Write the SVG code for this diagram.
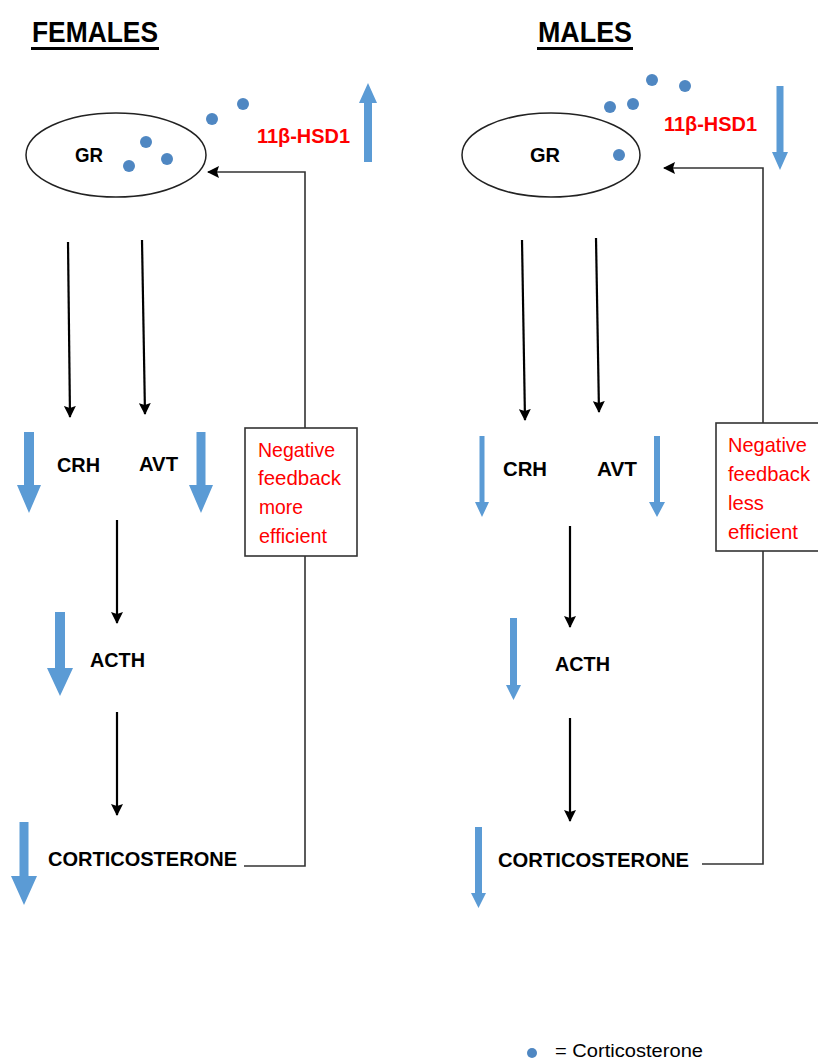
<svg xmlns="http://www.w3.org/2000/svg" width="818" height="1062" viewBox="0 0 818 1062">
<style>
.title{font-family:"Liberation Sans",Arial,sans-serif;font-weight:bold;font-size:29px;fill:#000}
.lbl{font-family:"Liberation Sans",Arial,sans-serif;font-weight:bold;font-size:20px;fill:#000}
.hsd{font-family:"Liberation Sans",Arial,sans-serif;font-weight:bold;font-size:20px;fill:#ff0000}
.fb{font-family:"Liberation Sans",Arial,sans-serif;font-size:21px;fill:#ff0000}
.leg{font-family:"Liberation Sans",Arial,sans-serif;font-size:18px;fill:#000}
.ell{fill:none;stroke:#222;stroke-width:1.5}
.dot{fill:#4f87c2}
.blue{fill:#5b9bd5}
.flow{stroke:#000;stroke-width:2.2;fill:none;marker-end:url(#ah)}
.fbl{stroke:#333;stroke-width:1.6;fill:none}
.box{fill:#fff;stroke:#333;stroke-width:1.6}
</style>
<defs>
<marker id="ah" markerWidth="13" markerHeight="12" refX="11" refY="6" orient="auto" markerUnits="userSpaceOnUse">
<path d="M0,0 L12,6 L0,12 L2,6 Z" fill="#000"/>
</marker>
<marker id="fah" markerWidth="13" markerHeight="12" refX="11" refY="6" orient="auto" markerUnits="userSpaceOnUse">
<path d="M0,0 L12,6 L0,12 L2,6 Z" fill="#000"/>
</marker>
</defs>
<rect width="818" height="1062" fill="#fff"/>

<g id="title-females">
<text class="title" x="32" y="42" textLength="126" lengthAdjust="spacingAndGlyphs">FEMALES</text>
<rect x="31" y="47" width="128" height="3" fill="#000"/>
</g>
<g id="title-males">
<text class="title" x="538" y="42" textLength="94" lengthAdjust="spacingAndGlyphs">MALES</text>
<rect x="537" y="47" width="96" height="3" fill="#000"/>
</g>

<!-- FEMALES -->
<g id="f-gr">
<ellipse class="ell" cx="116" cy="155" rx="90" ry="42"/>
<text class="lbl" x="75" y="162" textLength="28" lengthAdjust="spacingAndGlyphs">GR</text>
</g>
<g id="f-dots">
<circle class="dot" cx="146" cy="142" r="6"/>
<circle class="dot" cx="129" cy="166" r="6"/>
<circle class="dot" cx="167" cy="159" r="6"/>
<circle class="dot" cx="212" cy="119" r="6"/>
<circle class="dot" cx="243" cy="104" r="6"/>
</g>
<g id="f-hsd">
<text class="hsd" x="257" y="143" textLength="93" lengthAdjust="spacingAndGlyphs">11β-HSD1</text>
<polygon class="blue" points="364,162 372,162 372,103 377,103 368,83 359,103 364,103"/>
</g>
<g id="f-crh">
<text class="lbl" x="57" y="472" textLength="43" lengthAdjust="spacingAndGlyphs">CRH</text>
<polygon class="blue" points="24,432 34,432 34,485 41,485 29,513 17,485 24,485"/>
</g>
<g id="f-avt">
<text class="lbl" x="139" y="471" textLength="39" lengthAdjust="spacingAndGlyphs">AVT</text>
<polygon class="blue" points="196.5,432 205.5,432 205.5,485 213,485 201,513 189,485 196.5,485"/>
</g>
<g id="f-acth">
<text class="lbl" x="90" y="667" textLength="55" lengthAdjust="spacingAndGlyphs">ACTH</text>
<polygon class="blue" points="55,612 65,612 65,668 73,668 60,696 47,668 55,668"/>
</g>
<g id="f-cort">
<text class="lbl" x="48" y="866" textLength="189" lengthAdjust="spacingAndGlyphs">CORTICOSTERONE</text>
<polygon class="blue" points="19.5,822 28.5,822 28.5,876 37,876 24,905 11,876 19.5,876"/>
</g>
<g id="f-feedback-box">
<rect class="box" x="245" y="428" width="112" height="128"/>
<text class="fb" x="258" y="457" textLength="77" lengthAdjust="spacingAndGlyphs">Negative</text>
<text class="fb" x="258" y="485" textLength="83" lengthAdjust="spacingAndGlyphs">feedback</text>
<text class="fb" x="259" y="514" textLength="44" lengthAdjust="spacingAndGlyphs">more</text>
<text class="fb" x="259" y="543" textLength="68" lengthAdjust="spacingAndGlyphs">efficient</text>
</g>

<!-- MALES -->
<g id="m-gr">
<ellipse class="ell" cx="551" cy="155" rx="89" ry="42"/>
<text class="lbl" x="530" y="162" textLength="30" lengthAdjust="spacingAndGlyphs">GR</text>
</g>
<g id="m-dots">
<circle class="dot" cx="619" cy="155" r="6"/>
<circle class="dot" cx="610" cy="107" r="6"/>
<circle class="dot" cx="633" cy="104" r="6"/>
<circle class="dot" cx="652" cy="80" r="6"/>
<circle class="dot" cx="685" cy="86" r="6"/>
</g>
<g id="m-hsd">
<text class="hsd" x="664" y="131" textLength="93" lengthAdjust="spacingAndGlyphs">11β-HSD1</text>
<polygon class="blue" points="776.5,86 783.5,86 783.5,152 788,152 780,170 772,152 776.5,152"/>
</g>
<g id="m-crh">
<text class="lbl" x="503" y="476" textLength="44" lengthAdjust="spacingAndGlyphs">CRH</text>
<polygon class="blue" points="479.5,436 484.5,436 484.5,502 489,502 482,517 475,502 479.5,502"/>
</g>
<g id="m-avt">
<text class="lbl" x="597" y="476" textLength="40" lengthAdjust="spacingAndGlyphs">AVT</text>
<polygon class="blue" points="654,436 660,436 660,502 665,502 657,517 649,502 654,502"/>
</g>
<g id="m-acth">
<text class="lbl" x="555" y="671" textLength="55" lengthAdjust="spacingAndGlyphs">ACTH</text>
<polygon class="blue" points="510,618 517,618 517,685 521,685 513.5,700 506,685 510,685"/>
</g>
<g id="m-cort">
<text class="lbl" x="498" y="867" textLength="191" lengthAdjust="spacingAndGlyphs">CORTICOSTERONE</text>
<polygon class="blue" points="475,827 482,827 482,893 486,893 478.5,908 471,893 475,893"/>
</g>
<g id="m-feedback-box">
<rect class="box" x="716" y="423" width="104" height="128"/>
<text class="fb" x="728" y="452" textLength="79" lengthAdjust="spacingAndGlyphs">Negative</text>
<text class="fb" x="728" y="481" textLength="82" lengthAdjust="spacingAndGlyphs">feedback</text>
<text class="fb" x="728" y="510" textLength="36" lengthAdjust="spacingAndGlyphs">less</text>
<text class="fb" x="728" y="539" textLength="70" lengthAdjust="spacingAndGlyphs">efficient</text>
</g>

<g id="legend">
<circle class="dot" cx="532" cy="1053" r="5"/>
<text class="leg" x="555" y="1057" textLength="148" lengthAdjust="spacingAndGlyphs">= Corticosterone</text>
</g>

<g id="connectors">
<!-- females -->
<path class="flow" d="M68,242 L70,417"/>
<path class="flow" d="M142,240 L145,414"/>
<path class="flow" d="M117,520 L117,623"/>
<path class="flow" d="M117,712 L117,815"/>
<path class="fbl" d="M244,866 L305,866 L305,556"/>
<path class="fbl" d="M305,428 L305,172 L208,172" marker-end="url(#fah)"/>
<!-- males -->
<path class="flow" d="M522,240 L525,420"/>
<path class="flow" d="M596,238 L599,412"/>
<path class="flow" d="M570,526 L570,627"/>
<path class="flow" d="M570,718 L570,821"/>
<path class="fbl" d="M702,864 L763,864 L763,551"/>
<path class="fbl" d="M763,423 L763,168 L664,168" marker-end="url(#fah)"/>
</g>
</svg>
